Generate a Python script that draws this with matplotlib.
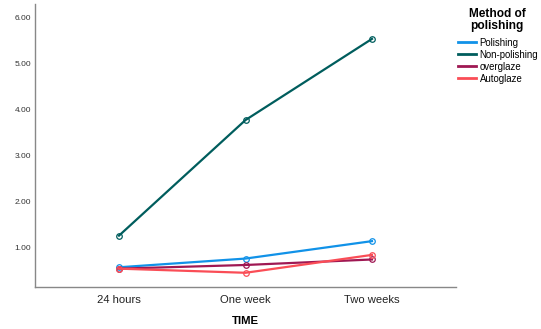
import matplotlib.pyplot as plt

plt.rcParams["font.family"] = ["Liberation Sans", "DejaVu Sans"]

time_points = ["24 hours", "One week", "Two weeks"]
methods = ["Polishing", "Non-polishing", "overglaze", "Autoglaze"]
polishing = [0.56, 0.75, 1.13]
non_polishing = [1.25, 3.77, 5.54]
overglaze = [0.53, 0.61, 0.73]
autoglaze = [0.53, 0.44, 0.83]
colors = ["#1192e8", "#005d5d", "#9f1853", "#fa4d56"]

fig = plt.figure(figsize=(5.41, 3.29), dpi=100)
ax = fig.add_axes([35 / 541, 1 - 287 / 329, 421 / 541, 283 / 329])

x = range(len(time_points))
for vals, name, c in zip([polishing, non_polishing, overglaze, autoglaze], methods, colors):
    ax.plot(x, vals, color=c, lw=1.6, label=name, marker="o", ms=4,
            mfc="none", mec=c, mew=0.9)

ax.set_xlim(-0.664, 2.664)
ax.set_ylim(0.13, 6.3)
ax.set_xticks(list(x))
ax.set_xticklabels(time_points, fontsize=8.1, color="#222222")
ax.set_yticks([1, 2, 3, 4, 5, 6])
ax.set_yticklabels([f"{v:.2f}" for v in [1, 2, 3, 4, 5, 6]], fontsize=6.0, color="#333333")
ax.tick_params(length=0)
ax.tick_params(axis="x", pad=6)
ax.tick_params(axis="y", pad=3)
for s in ["top", "right"]:
    ax.spines[s].set_visible(False)
for s in ["left", "bottom"]:
    ax.spines[s].set_color("#888888")
    ax.spines[s].set_linewidth(1)
ax.set_xlabel("TIME", fontsize=8.2, fontweight="bold", labelpad=8)

fig.text(497 / 541, 1 - 20 / 329, "Method of\npolishing", ha="center", va="center",
         fontsize=8.6, fontweight="bold", linespacing=1.05)
leg = fig.legend(loc="upper left", bbox_to_anchor=(458 / 541, 1 - 37.5 / 329),
                 fontsize=6.9, frameon=False, borderpad=0,
                 handlelength=1.9, handletextpad=0.35, labelspacing=0.22,
                 borderaxespad=0)
for line in leg.get_lines():
    line.set_marker("")
    line.set_linewidth(2)

fig.savefig("out.png", dpi=100)
